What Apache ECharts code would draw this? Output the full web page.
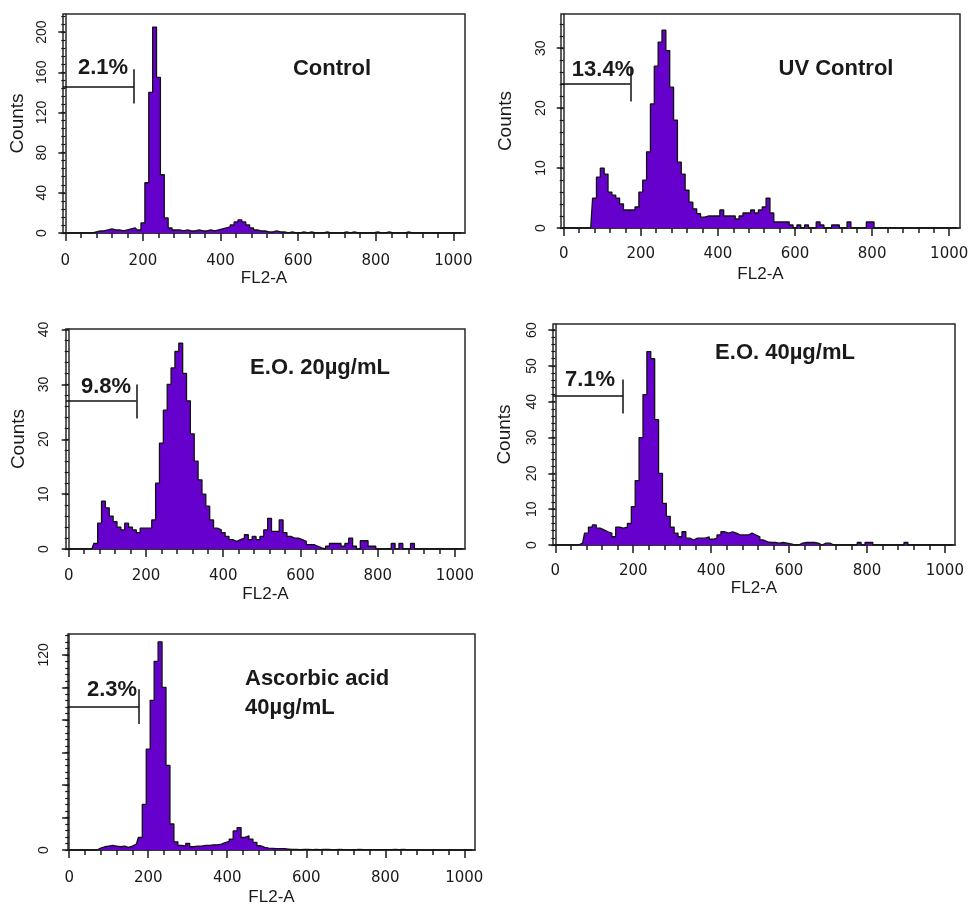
<!DOCTYPE html>
<html>
<head>
<meta charset="utf-8">
<title>FL2-A histograms</title>
<script src="https://cdn.jsdelivr.net/npm/echarts@6/dist/echarts.min.js"></script>
<style>
  html, body { margin: 0; padding: 0; background: #fff; }
  #main { width: 973px; height: 907px; }
</style>
</head>
<body>
<div id="main"></div>
<script>
// FL2-A channel of each histogram bin (10 channels per bin)
var channels = [
  0, 10, 20, 30, 40, 50, 60, 70, 80, 90,
  100, 110, 120, 130, 140, 150, 160, 170, 180, 190,
  200, 210, 220, 230, 240, 250, 260, 270, 280, 290,
  300, 310, 320, 330, 340, 350, 360, 370, 380, 390,
  400, 410, 420, 430, 440, 450, 460, 470, 480, 490,
  500, 510, 520, 530, 540, 550, 560, 570, 580, 590,
  600, 610, 620, 630, 640, 650, 660, 670, 680, 690,
  700, 710, 720, 730, 740, 750, 760, 770, 780, 790,
  800, 810, 820, 830, 840, 850, 860, 870, 880, 890,
  900, 910, 920, 930, 940, 950, 960, 970, 980, 990,
  1000, 1010, 1020
];

// counts per bin
var control = [
  0, 0, 0, 0, 0, 0, 0, 0, 1, 2,
  2, 3, 4, 3, 3, 2, 3, 4, 5, 3,
  10, 50, 140, 205, 155, 58, 15, 5, 3, 3,
  2, 3, 2, 2, 3, 2, 2, 3, 2, 3,
  4, 5, 6, 8, 11, 13, 11, 8, 5, 3,
  2, 2, 1, 1, 2, 1, 1, 0, 1, 0,
  0, 1, 0, 1, 0, 0, 0, 1, 0, 0,
  0, 0, 1, 0, 1, 0, 0, 0, 0, 0,
  1, 0, 0, 1, 0, 0, 0, 0, 1, 0,
  0, 0, 0, 0, 0, 0, 0, 0, 0, 0,
  0, 0, 0
];
var uvControl = [
  0, 0, 0, 0, 0, 0, 0, 0, 5, 8.5,
  10, 9, 6, 5.5, 5, 4, 3, 3, 3, 3.5,
  6, 8, 12.7, 20.7, 27, 31, 33, 29.6, 23.5, 18,
  11, 9, 6.3, 4.3, 3.2, 2.4, 1.8, 2, 2, 2,
  2, 3, 2, 2, 2, 1.5, 2, 2.5, 2.5, 3,
  2.5, 3, 3.5, 5, 2.5, 1, 1, 1, 1, 0.5,
  0, 0.5, 0, 0.5, 0, 0, 1, 0.5, 0, 0,
  0.5, 0.5, 0, 0, 1, 0, 0, 0, 0, 1,
  1, 0, 0, 0, 0, 0, 0, 0, 0, 0,
  0, 0, 0, 0, 0, 0, 0, 0, 0, 0,
  0, 0, 0
];
var eo20 = [
  0, 0, 0, 0, 0, 0, 0, 1, 4.7, 8.7,
  7.5, 6, 5, 4, 3.5, 4.7, 4, 3.5, 3, 3.8,
  3.8, 3.8, 5.3, 12, 19.3, 25.3, 30, 33, 36, 37.5,
  32, 27, 21, 16, 12.6, 10, 7.8, 5.3, 3.8, 3.5,
  3, 2.3, 1.7, 1.4, 1.7, 2, 2.6, 1.7, 2.3, 1.7,
  2.3, 3.5, 5.6, 3.2, 3.2, 5.3, 3, 2.3, 2, 2,
  1.7, 1.4, 0.8, 0.8, 0.5, 0.2, 0, 0.5, 1, 1,
  1, 0.5, 1, 2, 0.5, 0, 1.5, 1.5, 0.5, 0.5,
  0, 0, 0, 0, 1, 0, 1, 0, 0, 1,
  0, 0, 0, 0, 0, 0, 0, 0, 0, 0,
  0, 0, 0
];
var eo40 = [
  0, 0, 0, 0, 0, 0, 0, 0.5, 3.3, 5,
  5.6, 4.7, 4.2, 3.7, 3.3, 2.3, 5, 4.7, 5, 6,
  10.7, 18, 30, 42, 54, 52, 35, 20, 11.6, 8,
  5, 3.3, 2.3, 3.7, 1.9, 1.4, 1.9, 1.9, 1.9, 2.3,
  1.6, 1.9, 2.8, 3.7, 3.3, 3.7, 3.3, 2.8, 2.8, 2.8,
  3.3, 2.8, 2.3, 1.4, 0.9, 0.7, 0.7, 0.5, 0.7, 0.5,
  0.3, 0, 0, 0.5, 0.7, 0.7, 0.7, 0.5, 0, 0.5,
  0.5, 0, 0, 0, 0, 0, 0, 0, 0.7, 0,
  0.7, 0.7, 0, 0, 0, 0, 0, 0, 0, 0,
  0.7, 0, 0, 0, 0, 0, 0, 0, 0, 0,
  0, 0, 0
];
var ascorbic = [
  0, 0, 0, 0, 0, 0, 0, 0, 1.2, 2,
  2.4, 2.8, 2.4, 2, 2.4, 1.6, 2.4, 3.6, 7.7, 28,
  62, 92, 116, 128, 100, 52, 16, 5, 2.8, 2.4,
  4, 2, 2.4, 2.4, 2.8, 2.8, 3.2, 3.2, 3.6, 4.5,
  5.3, 6.7, 11.7, 13.8, 7.7, 8.7, 6.7, 4.7, 2.6, 1.6,
  1.2, 1, 0.8, 0.8, 0.8, 0.6, 0.4, 0.4, 0.2, 0.4,
  0.4, 0.2, 0.4, 0.2, 0.4, 0.4, 0.2, 0.2, 0.4, 0.2,
  0.2, 0, 0.2, 0.4, 0.2, 0.2, 0.2, 0.2, 0.2, 0.2,
  0.2, 0.2, 0.4, 0.2, 0.4, 0.2, 0, 0, 0, 0,
  0, 0, 0, 0, 0, 0, 0, 0, 0, 0,
  0, 0, 0
];

var panelNames = ['Control', 'UV Control', 'E.O. 20µg/mL', 'E.O. 40µg/mL', 'Ascorbic acid'];
var gatePercent = ['2.1%', '13.4%', '9.8%', '7.1%', '2.3%'];
// gate: right edge (channel), level and vertical bar extent (counts)
var gateEdge = [177, 173, 175, 174, 177];
var gateLevel = [146, 24, 27.1, 41.6, 88.3];
var gateLow = [129, 21.1, 23.8, 36.7, 77.5];
var gateHigh = [163, 26.7, 30, 46.2, 98.8];

var xTickLabels = [0, 200, 400, 600, 800, 1000];
var yTickLabels = [
  [0, 40, 80, 120, 160, 200],
  [0, 10, 20, 30],
  [0, 10, 20, 30, 40],
  [0, 10, 20, 30, 40, 50, 60],
  [0, 120]
];
var yMajorTicks = [
  [0, 40, 80, 120, 160, 200],
  [0, 10, 20, 30],
  [0, 10, 20, 30, 40],
  [0, 10, 20, 30, 40, 50, 60],
  [0, 20, 40, 60, 80, 100, 120]
];

var histograms = [control, uvControl, eo20, eo40, ascorbic];

// layout of every panel
var grids = [
  {left: 63, top: 14, width: 402, height: 219},
  {left: 561, top: 14, width: 399, height: 214},
  {left: 66, top: 329, width: 399, height: 220},
  {left: 553, top: 324, width: 402, height: 221},
  {left: 68, top: 634, width: 407, height: 219}
];
var xRange = [[-6, 1030], [-7, 1028], [-7, 1026], [-6, 1026], [-3, 1027]];
var yMax = [218, 35.7, 40.1, 61.7, 132.8];
var yMinorStep = [8, 2, 2, 2, 4];
var yLabelMargin = [14, 13, 15, 14, 17];
var xLabelMargin = [21, 19, 20, 19, 21];
var yNameGap = [36, 46, 38, 39, 0];
var xNameGap = [36, 38, 37, 35, 39];

function steps(from, to, step) {
  var out = [];
  for (var v = from; v <= to + 1e-9; v += step) out.push(+v.toFixed(3));
  return out;
}

var FONT = '"Liberation Sans", Arial, sans-serif';
var ink = '#1a1a1a';

var myChart = echarts.init(document.getElementById('main'), null, {renderer: 'canvas'});

var option = {
  animation: false,
  backgroundColor: '#fff',
  grid: [],
  xAxis: [],
  yAxis: [],
  series: [],
  graphic: []
};

for (var i = 0; i < 5; i++) {
  var g = grids[i];
  option.grid.push({
    left: g.left, top: g.top, width: g.width, height: g.height,
    show: true, borderColor: '#2a2a2a', borderWidth: 1.5, containLabel: false
  });

  // main x axis: labels + long ticks
  option.xAxis.push({
    type: 'value', gridIndex: i, position: 'bottom',
    min: xRange[i][0], max: xRange[i][1],
    name: 'FL2-A', nameLocation: 'middle', nameGap: xNameGap[i],
    nameTextStyle: {fontFamily: FONT, fontSize: 17, color: ink},
    axisLine: {show: true, onZero: false, lineStyle: {color: '#2a2a2a', width: 1.5}},
    axisTick: {show: true, length: 8, customValues: xTickLabels, lineStyle: {color: ink, width: 1.5}},
    axisLabel: {
      customValues: xTickLabels, margin: xLabelMargin[i],
      fontFamily: '"DejaVu Sans", sans-serif', fontSize: 15, color: ink,
      formatter: function (v) { return String(v); }
    },
    splitLine: {show: false}
  });
  // minor x ticks every 40 channels
  option.xAxis.push({
    type: 'value', gridIndex: i, position: 'bottom',
    min: xRange[i][0], max: xRange[i][1],
    axisLine: {show: false},
    axisTick: {show: true, length: 5, customValues: steps(0, 1000, 40), lineStyle: {color: ink, width: 1.5}},
    axisLabel: {show: false},
    splitLine: {show: false}
  });

  option.yAxis.push({
    type: 'value', gridIndex: i, position: 'left',
    min: 0, max: yMax[i],
    name: i < 4 ? 'Counts' : '', nameLocation: 'middle', nameGap: yNameGap[i], nameRotate: 90,
    nameTextStyle: {fontFamily: FONT, fontSize: 19, color: ink},
    axisLine: {show: true, lineStyle: {color: '#2a2a2a', width: 1.5}},
    axisTick: {show: true, length: 7, customValues: yMajorTicks[i], lineStyle: {color: ink, width: 1.5}},
    axisLabel: {
      customValues: yTickLabels[i], rotate: 90, margin: yLabelMargin[i],
      fontFamily: FONT, fontSize: 14, color: ink,
      formatter: function (v) { return String(v); }
    },
    splitLine: {show: false}
  });
  option.yAxis.push({
    type: 'value', gridIndex: i, position: 'left',
    min: 0, max: yMax[i],
    axisLine: {show: false},
    axisTick: {show: true, length: 4, customValues: steps(0, yMax[i], yMinorStep[i]), lineStyle: {color: ink, width: 1.2}},
    axisLabel: {show: false},
    splitLine: {show: false}
  });

  var vals = histograms[i];
  option.series.push({
    type: 'line',
    xAxisIndex: i * 2, yAxisIndex: i * 2,
    step: 'middle', symbol: 'none', clip: true,
    lineStyle: {color: '#111', width: 1.3},
    areaStyle: {color: '#6600cc', opacity: 1},
    data: channels.map(function (c, k) { return [c, vals[k]]; }),
    markLine: {
      silent: true, symbol: ['none', 'none'], label: {show: false},
      lineStyle: {color: '#111', width: 1.5, type: 'solid'},
      data: [
        [{coord: [xRange[i][0], gateLevel[i]]}, {coord: [gateEdge[i], gateLevel[i]]}],
        [{coord: [gateEdge[i], gateLow[i]]}, {coord: [gateEdge[i], gateHigh[i]]}]
      ]
    }
  });
}

// gate percentages and panel titles
var pctPos = [[103, 68], [603, 70], [106, 387], [590, 380], [112, 690]];
var titlePos = [[332, 69], [836, 69], [320, 368], [785, 353]];
for (var j = 0; j < 5; j++) {
  option.graphic.push({
    type: 'text', x: pctPos[j][0], y: pctPos[j][1],
    style: {text: gatePercent[j], font: 'bold 22px ' + FONT, fill: ink, textAlign: 'center', textVerticalAlign: 'middle'}
  });
}
for (var t = 0; t < 4; t++) {
  option.graphic.push({
    type: 'text', x: titlePos[t][0], y: titlePos[t][1],
    style: {text: panelNames[t], font: 'bold 22px ' + FONT, fill: ink, textAlign: 'center', textVerticalAlign: 'middle'}
  });
}
option.graphic.push({
  type: 'text', x: 245, y: 679,
  style: {text: panelNames[4], font: 'bold 22px ' + FONT, fill: ink, textAlign: 'left', textVerticalAlign: 'middle'}
});
option.graphic.push({
  type: 'text', x: 245, y: 708,
  style: {text: '40µg/mL', font: 'bold 22px ' + FONT, fill: ink, textAlign: 'left', textVerticalAlign: 'middle'}
});

option && myChart.setOption(option);
</script>
</body>
</html>
